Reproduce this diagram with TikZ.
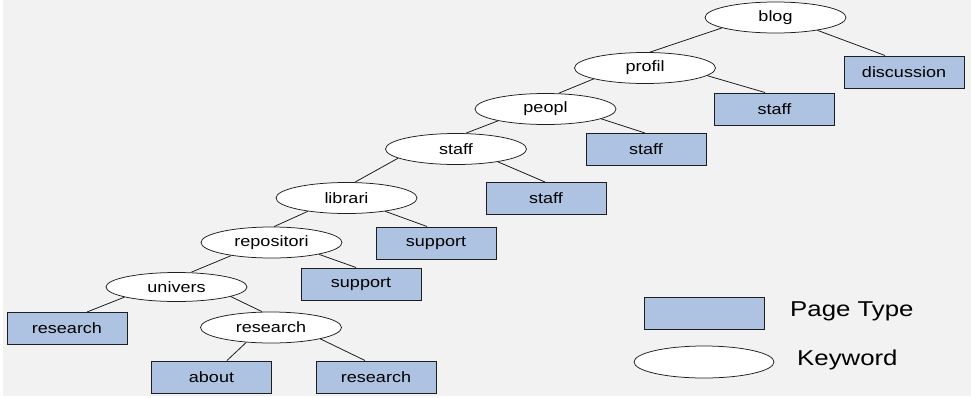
\documentclass[tikz,border=0pt]{standalone}
\usepackage{fontspec}
\setmainfont{Liberation Sans}[FakeStretch=1.2]
\usetikzlibrary{shapes.geometric}
\definecolor{bggray}{RGB}{242,242,242}
\definecolor{pagefill}{RGB}{174,194,226}
\definecolor{edgecol}{RGB}{30,30,30}
\tikzset{
  kw/.style={ellipse, draw=edgecol, line width=0.75pt, fill=white, minimum width=141pt, minimum height=31pt, inner sep=0pt, font=\fontsize{15}{18}\selectfont},
  page/.style={rectangle, draw=edgecol, line width=1pt, fill=pagefill, minimum width=120pt, minimum height=32pt, inner sep=0pt, font=\fontsize{15}{18}\selectfont},
  link/.style={draw=edgecol, line width=0.8pt},
  legtext/.style={anchor=west, inner sep=0pt, font=\fontsize{21.5}{25}\selectfont}
}
\begin{document}
\begin{tikzpicture}[x=1pt,y=-1pt]
\useasboundingbox (0,0) rectangle (971,397);
\fill[white] (0,0) rectangle (971,397);
\fill[bggray] (3,0) rectangle (971,396);

% keyword ellipses
\node[kw] (blog) at (775.5,17.5) {blog};
\node[kw] (profil) at (645,68) {profil};
\node[kw] (peopl) at (545.5,109) {peopl};
\node[kw] (staffk) at (456,149) {staff};
\node[kw] (librari) at (346.5,198) {librari};
\node[kw] (repositori) at (271.5,242.5) {repositori};
\node[kw, minimum height=29pt] (univers) at (176.5,287) {univers};
\node[kw] (researchk) at (271,327.5) {research};

% page type boxes
\node[page] (discussion) at (904,72) {discussion};
\node[page] (staffa) at (774.5,109) {staff};
\node[page] (staffb) at (646,149.5) {staff};
\node[page] (staffc) at (546,198.5) {staff};
\node[page] (supporta) at (436,243) {support};
\node[page] (supportb) at (361,284) {support};
\node[page] (researcha) at (67,328.5) {research};
\node[page] (about) at (211.5,377) {about};
\node[page] (researchb) at (376,377) {research};

% connectors
\draw[link] (blog.191.6) -- ([xshift=5pt]profil.north);
\draw[link] (blog.343) -- ([xshift=-19pt]discussion.north);
\draw[link] (profil.192.4) -- ([xshift=13.5pt]peopl.north);
\draw[link] (profil.353.9) -- ([xshift=-9.5pt]staffa.north);
\draw[link] (peopl.194.8) -- ([xshift=10pt]staffk.north);
\draw[link] (peopl.350.5) -- ([xshift=-1pt]staffb.north);
\draw[link] (staffk.189.6) -- ([xshift=8.5pt]librari.north);
\draw[link] (staffk.343.2) -- ([xshift=-1pt]staffc.north);
\draw[link] (librari.199.5) -- ([xshift=2.5pt]repositori.north);
\draw[link] (librari.341.8) -- ([xshift=-9pt]supporta.north);
\draw[link] (repositori.198.8) -- ([xshift=15pt]univers.north);
\draw[link] (repositori.346.7) -- ([xshift=-5pt]supportb.north);
\draw[link] (univers.191.4) -- ([xshift=20pt]researcha.north);
\draw[link] (univers.350.5) -- ([xshift=-9pt]researchk.north);
\draw[link] (researchk.211.4) -- ([xshift=15.5pt]about.north);
\draw[link] (researchk.347.6) -- ([xshift=-11pt]researchb.north);

% legend
\node[page] (legpage) at (704,313) {};
\node[kw, minimum width=140pt, minimum height=32pt] (legkw) at (704,362) {};
\node[legtext] (legpagetext) at (790,311) {Page Type};
\node[legtext] (legkwtext) at (797,360) {Keyword};
\end{tikzpicture}
\end{document}
